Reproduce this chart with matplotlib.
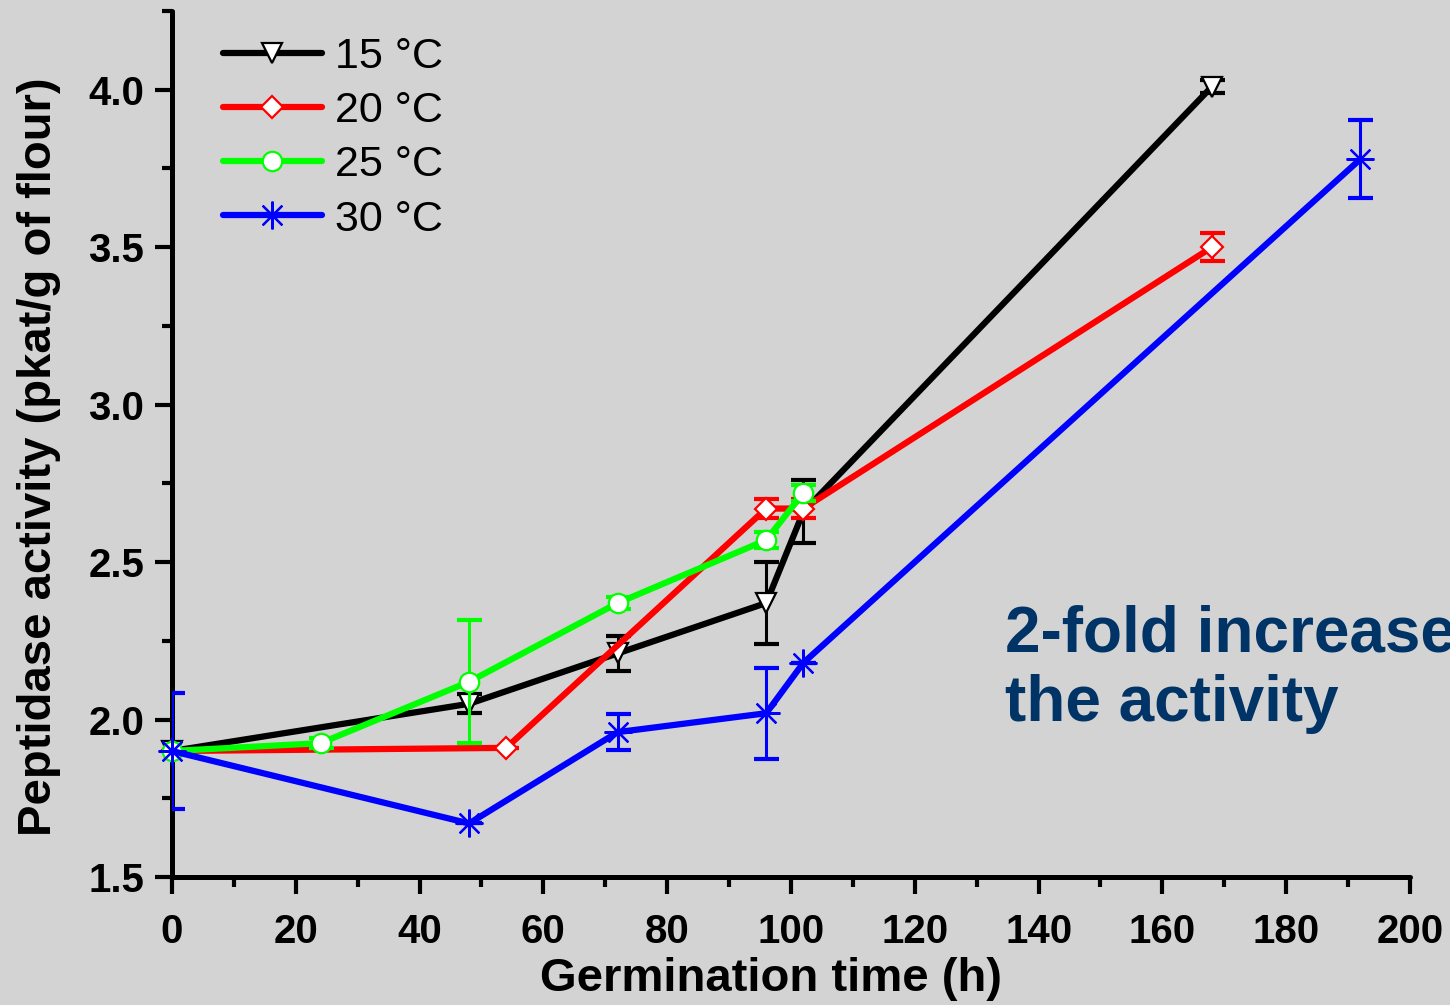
import matplotlib
matplotlib.use("Agg")
import matplotlib.pyplot as plt
from matplotlib.ticker import MultipleLocator

# ---- data ----
x15 = [0, 48, 72, 96, 102, 168]
y15 = [1.90, 2.05, 2.21, 2.37, 2.66, 4.01]
e15 = [0.0, 0.03, 0.055, 0.13, 0.10, 0.02]

x20 = [0, 54, 96, 102, 168]
y20 = [1.90, 1.91, 2.67, 2.67, 3.50]
e20 = [0.0, 0.0, 0.03, 0.03, 0.045]

x25 = [0, 24, 48, 72, 96, 102]
y25 = [1.90, 1.925, 2.12, 2.37, 2.57, 2.72]
e25 = [0.0, 0.015, 0.195, 0.02, 0.025, 0.025]

x30 = [0, 48, 72, 96, 102, 192]
y30 = [1.90, 1.67, 1.96, 2.02, 2.18, 3.78]
e30 = [0.185, 0.0, 0.057, 0.145, 0.0, 0.125]

labels = ["15 °C", "20 °C", "25 °C", "30 °C"]
xticks = list(range(0, 201, 20))
yticks = [1.5, 2.0, 2.5, 3.0, 3.5, 4.0]

plt.rcParams['font.family'] = ['Liberation Sans', 'DejaVu Sans']
bg = '#d3d3d3'
fig = plt.figure(figsize=(14.5, 10.05), dpi=100, facecolor=bg)
ax = fig.add_axes([0.1186, 0.1274, 0.8538, 0.8616], facecolor=bg)

series = [
    (x15, y15, e15, 'black', 'v', 15),
    (x20, y20, e20, 'red', 'D', 11),
    (x25, y25, e25, '#00ff00', 'o', 14),
    (x30, y30, e30, 'blue', (8, 2, 0), 20),
]
for i, ((xs, ys, es, c, m, ms), lab) in enumerate(zip(series, labels)):
    z = 3 + i
    ax.errorbar(xs, ys, yerr=es, fmt='none', ecolor=c, elinewidth=2.2,
                capsize=9, capthick=3, zorder=z)
    ax.plot(xs, ys, color=c, lw=4.5, marker=m, ms=ms,
            mfc='white' if m != (8, 2, 0) else c,
            mec=c, mew=1.6, label=lab, zorder=z + 0.5, solid_capstyle='round',
            clip_on=False)

ax.set_xlim(0, 200)
ax.set_ylim(1.5, 4.25)
ax.xaxis.set_minor_locator(MultipleLocator(10))
ax.yaxis.set_minor_locator(MultipleLocator(0.25))
ax.set_xticks(xticks)
ax.set_yticks(yticks)
ax.set_yticklabels([f"{v:.1f}" for v in yticks])

for s in ['top', 'right']:
    ax.spines[s].set_visible(False)
for s in ['left', 'bottom']:
    ax.spines[s].set_linewidth(3.6)
    ax.spines[s].set_capstyle('round')

ax.tick_params(which='major', direction='out', length=12, width=3, labelsize=29)
ax.tick_params(axis='x', which='major', pad=14)
ax.tick_params(axis='y', which='major', pad=8)
ax.tick_params(which='minor', direction='out', length=7, width=3)
for t in ax.get_xticklabels() + ax.get_yticklabels():
    t.set_fontweight('bold')

ax.set_xlabel("Germination time (h)", fontsize=34, fontweight='bold')
ax.set_ylabel("Peptidase activity (pkat/g of flour)", fontsize=34, fontweight='bold')
ax.xaxis.set_label_coords(0.484, -0.092)
ax.yaxis.set_label_coords(-0.09, 0.485)

leg = ax.legend(loc='upper left', bbox_to_anchor=(0.02, 1.0), frameon=False,
                fontsize=31, handlelength=2.3, handletextpad=0.3, labelspacing=0.33,
                borderaxespad=0.2)

ax.text(134.6, 1.995, "2-fold increase in\nthe activity", fontsize=46, fontweight='bold',
        color='#003366', ha='left', va='baseline', linespacing=1.2, clip_on=False)

fig.savefig("out.png", dpi=100, facecolor=bg)
